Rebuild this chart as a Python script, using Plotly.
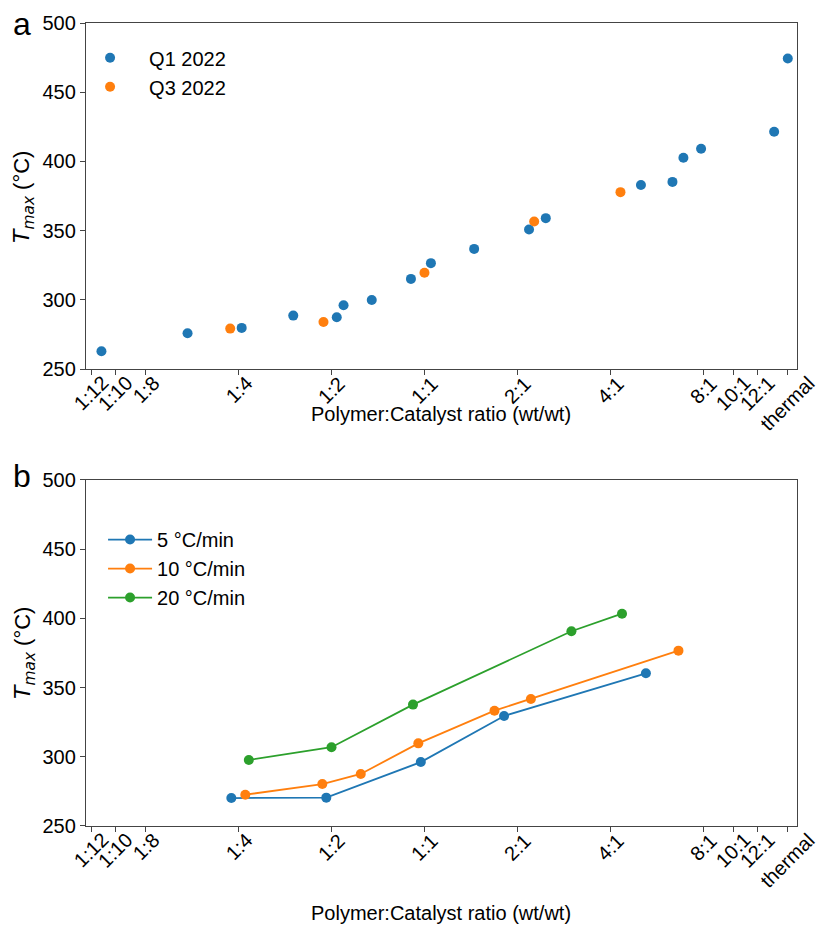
import numpy as np
import plotly.graph_objects as go
from plotly.subplots import make_subplots

# ---------------- data ----------------
tick_vals = [1/12, 1/10, 1/8, 1/4, 1/2, 1, 2, 4, 8, 10, 12, 15]
tick_text = ['1:12', '1:10', '1:8', '1:4', '1:2', '1:1', '2:1', '4:1', '8:1', '10:1', '12:1', 'thermal']
y_ticks = [250, 300, 350, 400, 450, 500]

q1_x = [0.090, 0.171, 0.256, 0.376, 0.52, 0.547, 0.675, 0.904, 1.049, 1.448, 2.18, 2.47, 5.02, 6.35, 6.89, 7.86, 13.55, 15]
q1_y = [262.8, 275.8, 279.7, 288.6, 287.4, 296.1, 299.9, 315.1, 326.5, 336.8, 350.8, 359.0, 382.9, 385.2, 402.6, 409.1, 421.4, 474.4]
q3_x = [0.235, 0.471, 1.0, 2.265, 4.31]
q3_y = [279.2, 284.0, 319.5, 356.6, 377.8]

r5_x = [0.237, 0.481, 0.973, 1.81, 5.21]
r5_y = [270.2, 270.5, 296.2, 329.5, 360.3]
r10_x = [0.263, 0.467, 0.622, 0.955, 1.685, 2.21, 6.64]
r10_y = [272.6, 280.3, 287.6, 309.7, 333.3, 341.8, 376.7]
r20_x = [0.27, 0.5, 0.918, 2.99, 4.36]
r20_y = [297.7, 306.9, 337.7, 390.7, 403.4]

BLUE, ORANGE, GREEN = '#1f77b4', '#ff7f0e', '#2ca02c'
FONT = 'Liberation Sans, Arial, sans-serif'
FS = 20

fig = make_subplots(rows=2, cols=1)

fig.add_trace(go.Scatter(x=q1_x, y=q1_y, mode='markers', name='Q1 2022',
                         marker=dict(color=BLUE, size=10, line=dict(width=0)),
                         legend='legend', legendgroup='a1'), row=1, col=1)
fig.add_trace(go.Scatter(x=q3_x, y=q3_y, mode='markers', name='Q3 2022',
                         marker=dict(color=ORANGE, size=10, line=dict(width=0)),
                         legend='legend', legendgroup='a2'), row=1, col=1)

for xs, ys, c, nm, g in [(r5_x, r5_y, BLUE, '5 °C/min', 'b1'),
                         (r10_x, r10_y, ORANGE, '10 °C/min', 'b2'),
                         (r20_x, r20_y, GREEN, '20 °C/min', 'b3')]:
    fig.add_trace(go.Scatter(x=xs, y=ys, mode='lines+markers', name=nm,
                             line=dict(color=c, width=1.8),
                             marker=dict(color=c, size=10, line=dict(width=0)),
                             legend='legend2', legendgroup=g), row=2, col=1)

xrange = [np.log10(2 ** -3.64), np.log10(2 ** 4.006)]
axis_common = dict(showline=True, linecolor='#444', linewidth=1.3, mirror=True,
                   ticks='outside', ticklen=5, tickwidth=1.2, tickcolor='#444',
                   showgrid=False, zeroline=False,
                   tickfont=dict(family=FONT, size=FS, color='black'))

fig.update_xaxes(type='log', range=xrange, tickvals=tick_vals, showticklabels=False,
                 **axis_common)
fig.update_yaxes(range=[250, 500], tickvals=y_ticks, **axis_common)

fig.update_layout(
    width=819, height=926,
    margin=dict(l=86, r=22, t=23, b=100),
    plot_bgcolor='white', paper_bgcolor='white',
    font=dict(family=FONT, size=FS, color='black'),
    xaxis=dict(domain=[0, 1]), xaxis2=dict(domain=[0, 1]),
    yaxis=dict(domain=[0.5691, 1.0]), yaxis2=dict(domain=[0.0, 0.4309]),
    legend=dict(x=-0.021, y=0.981, xref='paper', yref='paper', xanchor='left', yanchor='top',
                bgcolor='rgba(0,0,0,0)', itemwidth=68, tracegroupgap=0,
                font=dict(family=FONT, size=FS, color='black')),
    legend2=dict(x=0.024, y=0.381, xref='paper', yref='paper', xanchor='left', yanchor='top',
                 bgcolor='rgba(0,0,0,0)', itemwidth=44, tracegroupgap=0,
                 font=dict(family=FONT, size=FS, color='black')),
    showlegend=True,
)

# rotated x tick labels, centred on their ticks (as in the reference)
for xref, ybottom in [('x', 0.5691), ('x2', 0.0)]:
    for v, t in zip(tick_vals, tick_text):
        fig.add_annotation(text=t, x=np.log10(v), xref=xref, y=ybottom, yref='paper',
                           xanchor='center', yanchor='top', yshift=0, textangle=-45,
                           showarrow=False, font=dict(family=FONT, size=FS, color='black'))

ytitle = ('<span style="font-family:DejaVu Sans"><i>T</i><sub><i>max</i></sub></span>'
          ' (°C)')
annots = [
    dict(text='a', x=22, y=24, size=32),
    dict(text='b', x=22, y=476, size=32),
    dict(text='Polymer:Catalyst ratio (wt/wt)', x=441, y=414, size=FS),
    dict(text='Polymer:Catalyst ratio (wt/wt)', x=441, y=913, size=FS),
    dict(text=ytitle, x=24, y=197, size=22, angle=-90),
    dict(text=ytitle, x=24, y=653, size=22, angle=-90),
]
for a in annots:
    fig.add_annotation(text=a['text'], xref='paper', yref='paper',
                       x=(a['x'] - 86) / 711, y=(826 - a['y']) / 803,
                       xanchor='center', yanchor='middle', showarrow=False,
                       textangle=a.get('angle', 0),
                       font=dict(family=FONT, color='black', size=a['size']))

fig.write_html('out.html')
